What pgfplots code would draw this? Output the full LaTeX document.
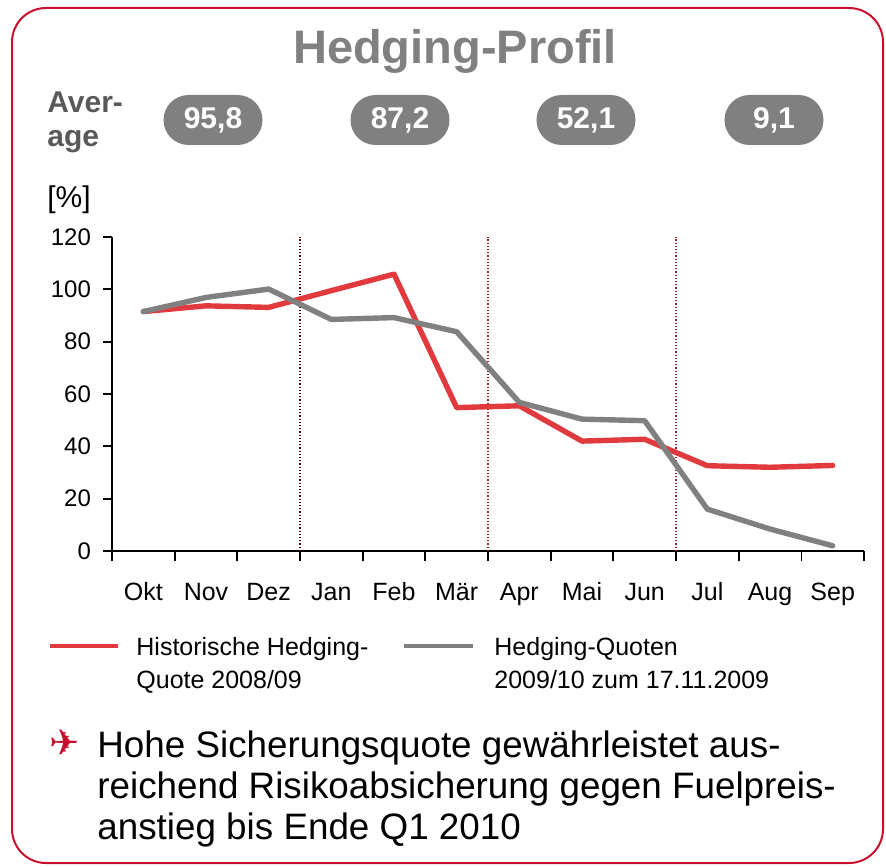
\documentclass[border=0pt]{standalone}
\usepackage{pgfplots}
\pgfplotsset{compat=1.18}
\usepackage{fontspec}
\setmainfont{Liberation Sans}
\newfontfamily\symfont{DejaVu Sans}
\definecolor{lhred}{HTML}{E03A3E}
\definecolor{lhgray}{HTML}{808080}
\definecolor{framered}{HTML}{C8102E}
\definecolor{divred}{HTML}{A01818}
\definecolor{divdark}{HTML}{600000}
\definecolor{avgtext}{HTML}{595959}

\begin{document}
\begin{tikzpicture}[x=0.5pt,y=-0.5pt]
\useasboundingbox (0,0) rectangle (886,866);
\draw[framered, line width=1pt, rounded corners=17pt] (12,8) rectangle (883,863);

% title
\node[anchor=base, text=lhgray, font=\fontsize{23.5}{27}\selectfont\bfseries, inner sep=0pt] at (455,64) {Hedging-Profil};

% average
\node[anchor=base west, align=left, text=avgtext, font=\fontsize{15}{17}\selectfont\bfseries, inner sep=0pt] at (47,147) {Aver-\\age};
\foreach \cx/\val in {213/{95,8}, 400/{87,2}, 586/{52,1}, 774/{9,1}}{
  \node[fill=lhgray, rounded corners=12.5pt, minimum width=49.5pt, minimum height=25pt, inner sep=0pt, text=white, font=\fontsize{15}{17}\selectfont\bfseries] at (\cx,120) {\val};
}

% unit
\node[anchor=base west, inner sep=0pt, font=\fontsize{15}{17}\selectfont] at (47,207) {[\%]};

\begin{axis}[
  at={(56pt,-275.5pt)}, anchor=south west,
  scale only axis, width=376pt, height=157pt,
  xmin=0, xmax=12, ymin=0, ymax=120,
  clip=false,
  axis lines=left,
  axis line style={-, line width=0.85pt, black},
  tick align=outside,
  major tick length=4.5pt,
  minor tick length=5pt,
  ytick={0,20,...,120},
  xtick={0.5,1.5,...,11.5},
  xticklabels={Okt,Nov,Dez,Jan,Feb,Mär,Apr,Mai,Jun,Jul,Aug,Sep},
  minor xtick={0,1,...,12},
  major x tick style={draw=none},
  minor x tick style={black, line width=0.85pt},
  major y tick style={black, line width=0.85pt},
  /pgf/number format/assume math mode=true,
  yticklabel style={font=\fontsize{12}{14}\selectfont, xshift=-2.5pt},
  xticklabel style={font=\fontsize{12.5}{15}\selectfont, anchor=base, yshift=-20pt},
]
\addplot[divdark, densely dotted, line width=0.6pt] coordinates {(3,0) (3,120)};
\addplot[divred, densely dotted, line width=0.6pt] coordinates {(6,0) (6,120)};
\addplot[divred, densely dotted, line width=0.6pt] coordinates {(9,0) (9,120)};
\addplot[lhred, line width=2.7pt, line cap=round, line join=round] coordinates {
 (0.5,91.5) (1.5,93.7) (2.5,93.1) (3.5,99.5) (4.5,105.8) (5.5,54.8)
 (6.5,55.5) (7.5,42.0) (8.5,42.7) (9.5,32.6) (10.5,32.0) (11.5,32.7)};
\addplot[lhgray, line width=2.7pt, line cap=round, line join=round] coordinates {
 (0.5,91.5) (1.5,96.9) (2.5,100.1) (3.5,88.5) (4.5,89.2) (5.5,83.8)
 (6.5,56.8) (7.5,50.4) (8.5,49.8) (9.5,16.0) (10.5,8.4) (11.5,2.0)};
\end{axis}

% legend
\draw[lhred, line width=2.2pt] (50,646) -- (118,646);
\node[anchor=base west, align=left, inner sep=0pt, font=\fontsize{12.5}{16.5}\selectfont] at (136,688) {Historische Hedging-\\Quote 2008/09};
\draw[lhgray, line width=2.2pt] (404,646) -- (473,646);
\node[anchor=base west, align=left, inner sep=0pt, font=\fontsize{12.5}{16.5}\selectfont] at (494,688) {Hedging-Quoten\\2009/10 zum 17.11.2009};

% bottom text
\node[text=framered, inner sep=0pt, font=\fontsize{18}{20}\symfont] at (65,743) {✈};
\node[anchor=base west, align=left, inner sep=0pt, font=\fontsize{18.4}{20.5}\selectfont] at (97,839) {Hohe Sicherungsquote gewährleistet aus-\\reichend Risikoabsicherung gegen Fuelpreis-\\anstieg bis Ende Q1 2010};
\end{tikzpicture}
\end{document}
